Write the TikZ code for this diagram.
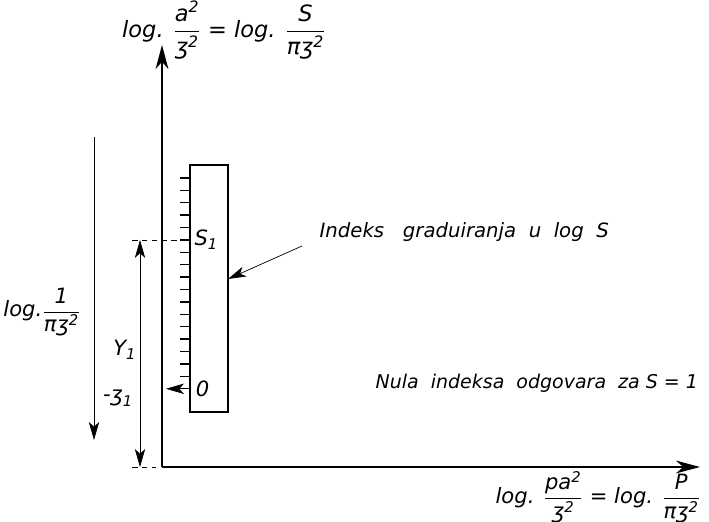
\documentclass[tikz,border=0pt]{standalone}
\usepackage{amsmath}
\usepackage{fontspec}
\setmainfont{DejaVu Sans}
\usetikzlibrary{positioning,arrows.meta}
\tikzset{
  axis/.style={-{Stealth[length=6mm,width=3.2mm,inset=1.8mm]},line width=0.8pt},
  arr/.style={-{Stealth[length=4.5mm,width=2.6mm,inset=1.2mm]},line width=0.5pt},
  dim/.style={{Stealth[length=4.5mm,width=2.6mm,inset=1.2mm]}-{Stealth[length=4.5mm,width=2.6mm,inset=1.2mm]},line width=0.5pt},
  guide/.style={line width=0.5pt,dash pattern=on 4pt off 3pt},
  lbl/.style={font=\fontsize{14}{16}\selectfont\itshape,inner sep=1pt},
  big/.style={font=\fontsize{15}{17}\selectfont\itshape,inner sep=1pt},
  ruler/.style={draw,line width=0.8pt,minimum width=0.95cm,minimum height=6.175cm,inner sep=0pt},
  tickmark/.style={line width=1pt}
}
\newcommand{\zh}{\text{ʒ}}
\newcommand{\sqr}{^{\text{2}}}

\begin{document}
\begin{tikzpicture}[x=1cm,y=1cm]
\useasboundingbox (0,0) rectangle (17.725,13.05);

% axes
\coordinate (O) at (4.05,1.375);
\coordinate (ytop) at (4.05,11.925);
\coordinate (xend) at (17.5,1.375);
\draw[axis] (O) -- (ytop);
\draw[axis] (O) -- (xend);

% index ruler
\node[ruler] (ruler) at (5.225,5.8375) {};
\foreach \k in {0,...,16}
  \draw[tickmark] (4.5,{8.6-0.31*\k}) -- (4.75,{8.6-0.31*\k});
\coordinate (s1) at (4.75,7.05);
\coordinate (z0) at (4.75,3.33);
\coordinate (ztip) at (4.15,3.33);
\draw[arr] (z0) -- (ztip);
\node[big,right=2pt of s1] (s1lbl) {$\text{S}_{\text{1}}$};
\node[big,right=3pt of z0] (zlbl) {0};

% dimension Y1
\coordinate (dleft) at (3.3,7.05);
\coordinate (y1top) at (3.5,7.05);
\coordinate (y1bot) at (3.5,1.375);
\coordinate (bleft) at (3.3,1.375);
\coordinate (bright) at (3.9,1.375);
\draw[guide] (dleft) -- (s1);
\draw[guide] (bleft) -- (bright);
\draw[dim] (y1top) -- (y1bot);
\node[big] (y1lbl) at (3.12,4.3) {$\text{Y}_{\text{1}}$};
\node[big] (zlbl1) at (2.95,3.1) {-$\zh_{\text{1}}$};

% left arrow
\coordinate (ltop) at (2.35,9.625);
\coordinate (lbot) at (2.35,2.05);
\draw[arr] (ltop) -- (lbot);
\node[big] (llbl) at (1.05,5.25) {log.$\dfrac{\text{1}}{\text{π}\zh\sqr}$};

% notes
\node[lbl,anchor=west] (idx) at (7.95,7.25) {Indeks\ \ \ graduiranja\ \ u\ \ log\ \ S};
\coordinate (idxtail) at (7.55,6.9);
\coordinate (idxtip) at (5.7,6.075);
\draw[arr] (idxtail) -- (idxtip);
\node[lbl,anchor=west,font=\fontsize{13.5}{16}\selectfont\itshape] (nula) at (9.35,3.475) {Nula\ \ indeksa\ \ odgovara\ \ za\ S = 1};

% axis labels
\node[big,font=\fontsize{16}{18}\selectfont\itshape] (ylbl) at (5.6,12.3) {log. $\dfrac{\text{a}\sqr}{\zh\sqr}$ = log. $\dfrac{\text{S}}{\text{π}\zh\sqr}$};
\node[big] (xlbl) at (14.95,0.62) {log. $\dfrac{\text{pa}\sqr}{\zh\sqr}$ = log. $\dfrac{\text{P}}{\text{π}\zh\sqr}$};
\end{tikzpicture}
\end{document}
